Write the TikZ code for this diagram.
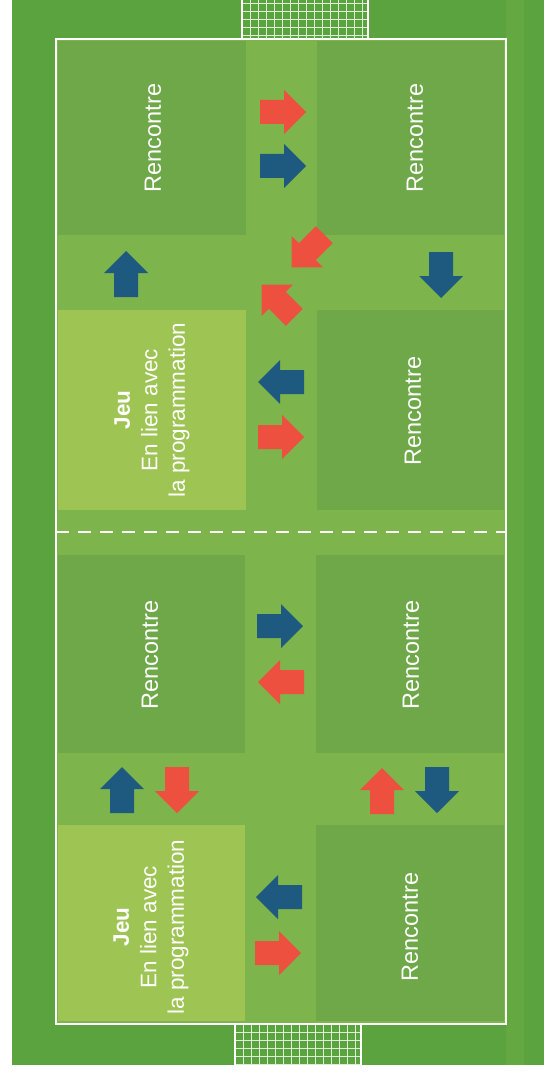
\documentclass[tikz,border=0pt]{standalone}
\usepackage{fontspec}
\setmainfont{Liberation Sans}

\definecolor{pelouse}{RGB}{90,163,62}
\definecolor{terrain}{RGB}{125,180,75}
\definecolor{zone}{RGB}{110,168,72}
\definecolor{jeu}{RGB}{158,196,84}
\definecolor{rouge}{RGB}{238,80,64}
\definecolor{bleu}{RGB}{30,90,128}

\tikzset{
  fleche/.pic={\fill (-23,-12) -- (1,-12) -- (1,-22) -- (23,0) -- (1,22) -- (1,12) -- (-23,12) -- cycle;},
  texte/.style={text=white, rotate=90, inner sep=0pt, font=\fontsize{23.5}{27.5}\selectfont},
  textejeu/.style={texte, align=center, font=\fontsize{22.5}{27.5}\selectfont},
}

\begin{document}
\begin{tikzpicture}[x=1pt,y=-1pt]
\useasboundingbox (0,0) rectangle (544,1075);
\fill[white] (0,0) rectangle (544,1075);
\fill[pelouse] (12,0) rectangle (544,1065);
\fill[pelouse!70!terrain] (506,0) rectangle (524,1065);

% terrain et zones
\fill[terrain] (56,39) rectangle (506,1024);
\fill[zone] (58,41) rectangle (246,235);
\fill[zone] (317,41) rectangle (504,235);
\fill[jeu] (58,310) rectangle (246,510);
\fill[zone] (317,310) rectangle (504,510);
\fill[zone] (58,555) rectangle (245,753);
\fill[zone] (316,555) rectangle (504,753);
\fill[jeu] (58,825) rectangle (245,1021);
\fill[zone] (316,825) rectangle (504,1021);

% buts
\foreach \x in {242,250,...,368} \draw[white!80!pelouse, line width=0.8] (\x,0) -- (\x,39);
\foreach \y in {3,11,...,39} \draw[white!80!pelouse, line width=0.8] (242,\y) -- (368,\y);
\draw[white, line width=1.5] (242,0) -- (242,39) (368,0) -- (368,39);
\foreach \x in {235,243,...,361} \draw[white!80!pelouse, line width=0.8] (\x,1024) -- (\x,1065);
\foreach \y in {1032,1040,...,1064} \draw[white!80!pelouse, line width=0.8] (235,\y) -- (361,\y);
\draw[white, line width=1.5] (235,1024) -- (235,1065) (361,1024) -- (361,1065);

% lignes
\draw[white, line width=2] (56,39) rectangle (506,1024);
\draw[white, line width=2, dash pattern=on 13 off 9] (56,532) -- (506,532);

\node[texte] (r1) at (153,138) {Rencontre};
\node[texte] (r2) at (415,138) {Rencontre};
\node[textejeu] (j1) at (152,410) {\textbf{Jeu}\\En lien avec\\la programmation};
\node[texte] (r3) at (413,411) {Rencontre};
\node[texte] (r4) at (150,655) {Rencontre};
\node[texte] (r5) at (411,655) {Rencontre};
\node[textejeu] (j2) at (151,927) {\textbf{Jeu}\\En lien avec\\la programmation};
\node[texte] (r6) at (410,927) {Rencontre};

% fleches
\pic[rouge] at (283,112) {fleche};
\pic[bleu] at (283,166) {fleche};
\pic[rouge, rotate=225] at (308,251) {fleche};
\pic[rouge, rotate=135] at (278,301) {fleche};
\pic[bleu, rotate=90] at (126,274) {fleche};
\pic[bleu, rotate=270] at (441,275) {fleche};
\pic[bleu, rotate=180] at (281,382) {fleche};
\pic[rouge] at (281,437) {fleche};

\pic[bleu] at (280,626) {fleche};
\pic[rouge, rotate=180] at (281,682) {fleche};
\pic[bleu, rotate=90] at (122,790) {fleche};
\pic[rouge, rotate=270] at (177,790) {fleche};
\pic[rouge, rotate=90] at (382,791) {fleche};
\pic[bleu, rotate=270] at (437,790) {fleche};
\pic[bleu, rotate=180] at (279,897) {fleche};
\pic[rouge] at (278,953) {fleche};

\end{tikzpicture}
\end{document}
